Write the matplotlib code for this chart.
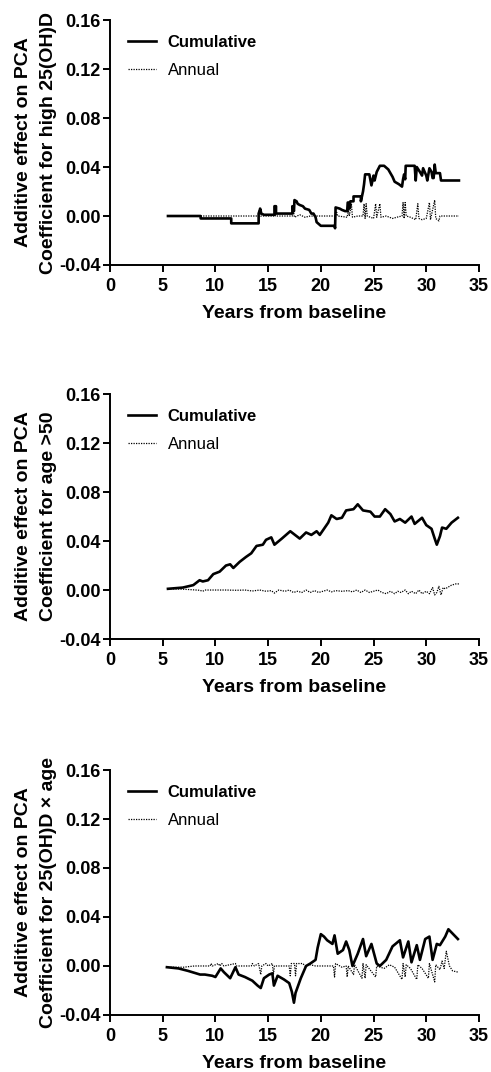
import matplotlib
matplotlib.use("Agg")
import matplotlib.pyplot as plt

plt.rcParams['font.family'] = ['Liberation Sans', 'DejaVu Sans']

# --- high 25(OH)D ---
t_cum_vitd = [5.5, 8.6, 8.6, 11.5, 11.5, 14.1, 14.1, 14.25, 14.35, 14.6, 15.6, 15.6, 15.75, 15.75,
              17.3, 17.3, 17.45, 17.5, 17.7, 17.8, 18.0, 18.3, 18.5, 18.9, 19.1, 19.3, 19.5, 19.6,
              20.0, 21.3, 21.35, 21.4, 21.8, 22.0, 22.3, 22.5, 22.55, 22.7, 22.7, 22.8, 23.1, 23.1,
              23.8, 23.8, 24.0, 24.1, 24.2, 24.6, 24.8, 25.0, 25.1, 25.3, 25.6, 26.0, 26.4, 26.8,
              27.0, 27.4, 27.7, 27.8, 27.9, 28.0, 28.05, 28.9, 29.0, 29.1, 29.4, 29.6, 29.7, 30.0,
              30.1, 30.3, 30.5, 30.6, 30.7, 30.8, 30.9, 31.3, 31.4, 33.1]
cum_vitd = [0.000, 0.000, -0.002, -0.002, -0.006, -0.006, 0.002, 0.006, 0.002, 0.001, 0.001, 0.008,
            0.008, 0.002, 0.002, 0.008, 0.004, 0.013, 0.012, 0.010, 0.009, 0.008, 0.006, 0.005,
            0.002, 0.002, -0.001, -0.005, -0.008, -0.008, -0.010, 0.007, 0.006, 0.005, 0.004,
            0.004, 0.011, 0.011, 0.006, 0.012, 0.012, 0.016, 0.016, 0.012, 0.020, 0.026, 0.034,
            0.034, 0.025, 0.033, 0.029, 0.036, 0.041, 0.041, 0.038, 0.032, 0.028, 0.026, 0.024,
            0.030, 0.034, 0.030, 0.041, 0.041, 0.029, 0.040, 0.036, 0.033, 0.039, 0.033, 0.029,
            0.039, 0.036, 0.031, 0.031, 0.042, 0.035, 0.035, 0.029, 0.029]
t_ann_vitd = [8.6, 14.1, 14.2, 14.3, 15.6, 15.65, 15.7, 17.3, 17.4, 17.5, 18.0, 18.5, 19.0, 21.4,
              21.5, 21.6, 22.5, 22.6, 22.7, 22.9, 23.0, 23.5, 24.0, 24.1, 24.2, 24.3, 24.4, 25.0,
              25.2, 25.3, 25.6, 25.7, 26.2, 26.8, 27.2, 27.7, 27.8, 27.9, 28.0, 28.1, 28.5, 29.0,
              29.2, 29.3, 29.6, 30.0, 30.3, 30.4, 30.8, 30.9, 31.2, 31.3, 33.1]
ann_vitd = [0.0, 0.0, 0.007, 0.0, 0.0, 0.006, 0.0, 0.0, 0.004, -0.001, 0.001, -0.001, 0.0, 0.0,
            0.003, 0.0, -0.001, 0.005, 0.0, 0.010, -0.001, 0.0, 0.0, 0.010, -0.002, 0.010, 0.0,
            -0.002, 0.010, -0.001, 0.010, -0.001, 0.0, -0.002, -0.001, 0.0, 0.011, -0.002, 0.011,
            0.0, -0.001, -0.003, 0.010, -0.002, -0.003, -0.002, 0.011, -0.003, 0.013, -0.002,
            -0.004, 0.0, 0.0]

# --- age > 50 ---
t_cum_age = [5.5, 6.9, 7.9, 8.5, 8.8, 9.3, 9.8, 10.4, 11.0, 11.4, 11.7, 12.3, 12.9, 13.4, 13.9,
             14.5, 14.8, 15.3, 15.6, 16.3, 17.1, 17.4, 18.0, 18.6, 19.1, 19.6, 19.9, 20.7, 21.0,
             21.5, 22.0, 22.4, 23.1, 23.5, 24.0, 24.7, 25.1, 25.6, 26.1, 26.6, 27.0, 27.5, 28.0,
             28.6, 28.9, 29.6, 30.0, 30.5, 30.8, 31.0, 31.3, 31.5, 31.9, 32.4, 33.0]
cum_age = [0.001, 0.002, 0.004, 0.008, 0.007, 0.008, 0.013, 0.015, 0.020, 0.021, 0.018, 0.023,
           0.027, 0.030, 0.036, 0.037, 0.041, 0.043, 0.037, 0.042, 0.048, 0.046, 0.042, 0.047,
           0.045, 0.048, 0.045, 0.055, 0.061, 0.058, 0.059, 0.065, 0.066, 0.070, 0.065, 0.064,
           0.060, 0.060, 0.066, 0.062, 0.056, 0.058, 0.055, 0.060, 0.054, 0.059, 0.053, 0.050,
           0.042, 0.037, 0.044, 0.051, 0.050, 0.055, 0.059]
t_ann_age = [5.5, 6.5, 7.5, 8.5, 8.8, 9.0, 10.0, 11.0, 12.0, 12.8, 13.5, 14.2, 14.8, 15.3, 15.6,
             16.0, 16.6, 17.0, 17.4, 17.8, 18.2, 18.6, 19.0, 19.4, 19.8, 20.2, 20.6, 21.0, 21.4,
             22.0, 22.6, 23.0, 23.4, 23.8, 24.2, 24.6, 25.0, 25.4, 25.8, 26.2, 26.6, 27.0, 27.3,
             27.6, 28.0, 28.3, 28.6, 29.0, 29.3, 29.6, 30.0, 30.3, 30.6, 30.8, 31.0, 31.2, 31.4,
             31.6, 31.8, 32.0, 32.4, 32.8, 33.1]
ann_age = [0.001, 0.0008, 0.0004, -0.0002, -0.001, 0.0, 0.0, 0.0, -0.0002, 0.0, -0.0008, 0.0,
           -0.001, -0.0005, -0.0025, 0.0, -0.001, 0.0, -0.002, -0.001, -0.002, 0.0, -0.002,
           -0.0005, -0.002, -0.001, 0.0, -0.0015, -0.0005, -0.001, -0.0005, -0.0015, 0.0, -0.002,
           0.0, -0.002, -0.001, 0.0, -0.002, -0.003, -0.001, -0.003, -0.001, -0.002, 0.0, -0.003,
           -0.001, -0.003, 0.0, -0.003, -0.001, -0.003, 0.002, -0.004, -0.002, 0.003, -0.004,
           0.002, 0.001, 0.002, 0.004, 0.005, 0.005]

# --- 25(OH)D x age ---
t_cum_int = [5.4, 6.5, 7.4, 8.55, 9.0, 9.7, 10.0, 10.5, 10.8, 11.4, 11.9, 12.2, 12.8, 13.5, 14.0,
             14.3, 14.6, 15.1, 15.4, 15.55, 15.9, 16.5, 17.0, 17.25, 17.45, 17.6, 18.1, 18.6, 19.0,
             19.5, 19.7, 20.0, 20.3, 20.6, 21.1, 21.3, 21.6, 22.1, 22.4, 22.7, 23.0, 23.5, 24.0,
             24.3, 24.8, 25.3, 25.6, 26.2, 26.8, 27.5, 27.8, 28.3, 28.6, 29.1, 29.4, 29.9, 30.3,
             30.6, 31.0, 31.3, 31.8, 32.1, 33.0]
cum_int = [-0.001, -0.002, -0.004, -0.007, -0.007, -0.008, -0.009, -0.002, -0.005, -0.010,
           -0.001, -0.007, -0.009, -0.012, -0.016, -0.018, -0.010, -0.007, -0.006, -0.016,
           -0.008, -0.011, -0.014, -0.021, -0.030, -0.022, -0.010, 0.000, 0.002, 0.005, 0.015,
           0.026, 0.024, 0.021, 0.018, 0.025, 0.010, 0.013, 0.020, 0.013, 0.000, 0.010, 0.022,
           0.008, 0.018, 0.002, 0.000, 0.005, 0.016, 0.021, 0.007, 0.020, 0.003, 0.017, 0.005,
           0.022, 0.024, 0.005, 0.018, 0.017, 0.024, 0.030, 0.022]
t_ann_int = [5.5, 7.0, 8.0, 9.5, 9.6, 9.7, 10.3, 10.4, 10.6, 10.8, 11.9, 12.0, 13.4, 13.5, 13.7,
             14.1, 14.3, 14.4, 14.8, 15.0, 15.4, 15.5, 15.6, 17.0, 17.1, 17.2, 17.5, 17.6, 17.7,
             18.3, 18.5, 19.0, 19.5, 20.0, 21.2, 21.3, 21.4, 22.0, 22.4, 22.5, 22.6, 23.1, 23.2,
             23.9, 24.0, 24.2, 24.3, 25.2, 25.3, 26.0, 26.5, 27.0, 27.7, 27.8, 28.0, 28.1, 28.5,
             29.1, 29.2, 29.6, 30.2, 30.3, 30.8, 30.9, 31.3, 31.5, 31.7, 31.9, 32.2, 32.5, 33.0]
ann_int = [-0.001, -0.001, 0.0, 0.0, 0.002, 0.0, 0.002, 0.0, 0.002, 0.0, 0.002, 0.0, 0.0, 0.002,
           0.0, 0.002, -0.007, 0.0, 0.002, 0.0, 0.002, -0.007, 0.0, 0.0, -0.008, 0.002, 0.002,
           -0.008, 0.002, 0.002, 0.0, 0.001, 0.0, 0.0, 0.0, -0.009, 0.002, -0.001, 0.0, -0.009,
           0.0, -0.007, 0.001, -0.010, 0.002, -0.010, 0.001, -0.009, 0.0, -0.002, 0.001, -0.001,
           -0.011, 0.002, -0.009, 0.001, -0.002, -0.011, 0.001, -0.002, -0.010, 0.002, -0.013,
           0.001, -0.003, 0.004, -0.002, 0.012, 0.0, -0.004, -0.005]

panels = [
    (t_cum_vitd, cum_vitd, t_ann_vitd, ann_vitd, 'Coefficient for high 25(OH)D'),
    (t_cum_age, cum_age, t_ann_age, ann_age, 'Coefficient for age >50'),
    (t_cum_int, cum_int, t_ann_int, ann_int, 'Coefficient for 25(OH)D \u00d7 age'),
]
# axes boxes in figure fractions (left, bottom, width, height)
boxes = [
    (0.224, 0.7528, 0.7515, 0.2285),
    (0.224, 0.4039, 0.7515, 0.2285),
    (0.224, 0.0532, 0.7515, 0.2285),
]

fig = plt.figure(figsize=(4.91, 10.72), dpi=100)

for (tc, yc, ta, ya, ylab), box in zip(panels, boxes):
    ax = fig.add_axes(box)
    ax.plot(ta, ya, color='black', lw=0.9, linestyle=(0, (1, 1)), label='Annual', zorder=2)
    ax.plot(tc, yc, color='black', lw=1.9, label='Cumulative', zorder=3)
    ax.set_xlim(0, 35)
    ax.set_ylim(-0.04, 0.16)
    ax.set_xticks(range(0, 36, 5))
    ax.set_yticks([-0.04, 0.0, 0.04, 0.08, 0.12, 0.16])
    ax.set_yticklabels(['-0.04', '0.00', '0.04', '0.08', '0.12', '0.16'])
    for s in ['top', 'right']:
        ax.spines[s].set_visible(False)
    for s in ['left', 'bottom']:
        ax.spines[s].set_linewidth(1.4)
    ax.tick_params(direction='out', length=5, width=1.4, labelsize=13)
    ax.tick_params(axis='y', pad=1.5)
    ax.tick_params(axis='x', pad=4.5)
    for lbl in ax.get_xticklabels() + ax.get_yticklabels():
        lbl.set_fontweight('bold')
    ax.set_xlabel('Years from baseline', fontsize=14, fontweight='bold', labelpad=7)
    ax.text(-0.2, 0.5, 'Additive effect on PCA\n' + ylab, transform=ax.transAxes,
            rotation=90, ha='center', va='center', multialignment='center',
            fontsize=14, fontweight='bold', linespacing=1.6)

    handles, labels = ax.get_legend_handles_labels()
    leg = ax.legend(handles[::-1], labels[::-1], loc='upper left', bbox_to_anchor=(0.03, 0.965),
                    frameon=False, fontsize=12, handlelength=1.7, handletextpad=0.7,
                    labelspacing=0.75, borderaxespad=0)
    leg.get_texts()[0].set_fontweight('bold')

fig.savefig('out.png', dpi=100)
